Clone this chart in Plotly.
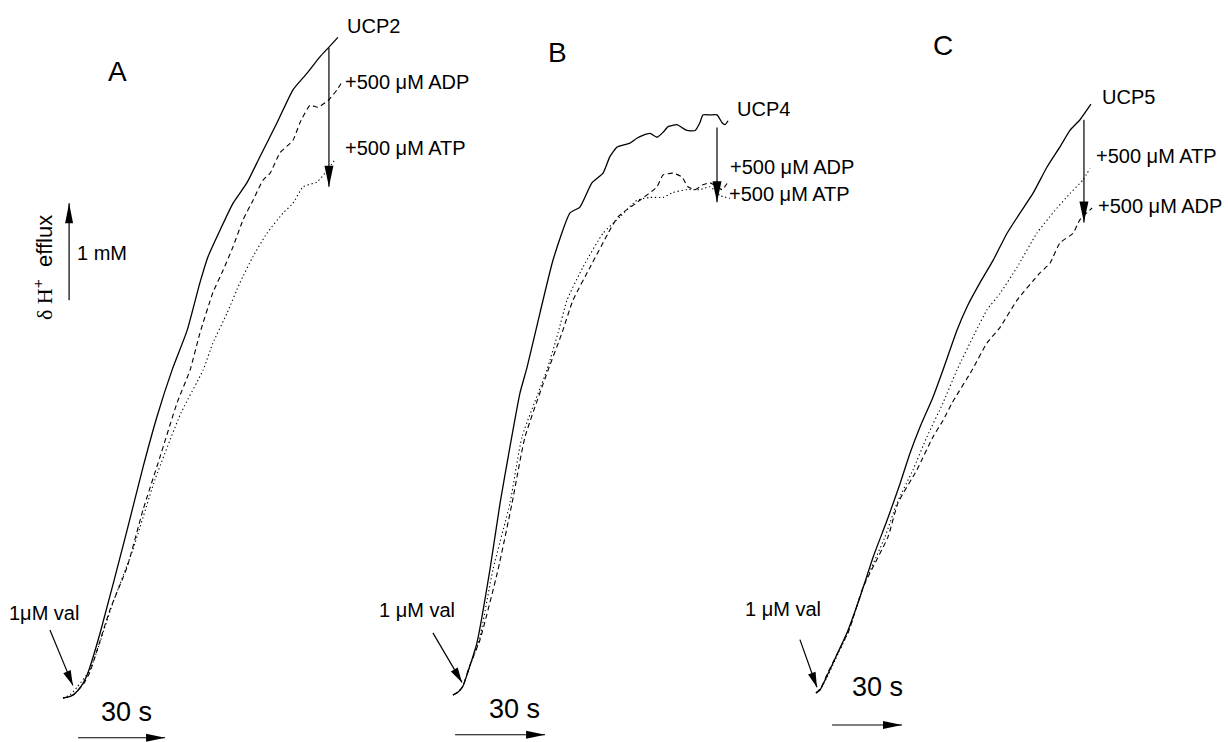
import math
import plotly.graph_objects as go

FIG_W, FIG_H = 1228, 742

# ---------------- data: time after valinomycin (s), delta H+ efflux (mM) ----------------
# Panel A - UCP2
ucp2_t = [0, 1.7, 3.4, 5.2, 6.9, 8.6, 12.8, 22.1, 27.6, 32.4, 37.6, 42.8, 47.2, 50.0, 54.1,
          58.6, 63.4, 67.9, 73.8, 79.3, 84.1, 88.6, 91.4, 94.8]
ucp2_mM = [0, 0.01, 0.03, 0.08, 0.15, 0.26, 0.67, 1.73, 2.38, 2.90, 3.38, 3.79, 4.28, 4.55, 4.82,
           5.10, 5.31, 5.58, 5.93, 6.27, 6.44, 6.61, 6.70, 6.81]
ucp2_adp_t = [0, 1.7, 3.4, 5.2, 7.2, 9.3, 16.2, 22.1, 27.6, 33.4, 39.3, 43.8, 47.2, 51.7, 55.2,
              58.6, 62.1, 65.5, 69.0, 71.4, 74.8, 79.3, 81.7, 85.2, 87.9, 91.4, 94.5, 96.2]
ucp2_adp_mM = [0, 0.01, 0.03, 0.08, 0.15, 0.27, 0.91, 1.35, 1.94, 2.48, 3.04, 3.38, 3.76, 4.18, 4.41,
               4.65, 4.93, 5.13, 5.34, 5.41, 5.62, 5.75, 5.93, 6.11, 6.09, 6.16, 6.27, 6.35]
ucp2_atp_t = [0, 2.4, 4.8, 9.3, 17.2, 24.1, 31.7, 40.7, 48.3, 51.7, 56.6, 61.0, 65.5, 70.3, 75.9,
              79.3, 82.8, 87.6, 90.3, 93.8]
ucp2_atp_mM = [0, 0.03, 0.11, 0.29, 0.98, 1.53, 2.25, 2.94, 3.38, 3.66, 3.97, 4.28, 4.55, 4.79, 5.00,
               5.10, 5.27, 5.32, 5.41, 5.55]

# Panel B - UCP4
ucp4_t = [0, 1.7, 3.3, 5.0, 8.0, 12.3, 15.7, 19.0, 22.3, 24.7, 29.0, 33.3, 39.0, 42.3, 46.3, 50.0,
          52.3, 54.7, 56.7, 59.0, 61.3, 63.3, 65.7, 68.0, 70.0, 71.7, 74.7, 76.3, 78.0, 80.7, 82.3,
          83.3, 85.7, 88.0, 89.7, 90.7, 91.7]
ucp4_mM = [0, 0.03, 0.09, 0.24, 0.54, 1.29, 1.98, 2.56, 3.11, 3.38, 3.94, 4.48, 4.97, 5.03, 5.28, 5.38,
           5.55, 5.65, 5.67, 5.69, 5.74, 5.77, 5.79, 5.75, 5.80, 5.86, 5.88, 5.85, 5.82, 5.82, 5.90,
           5.98, 5.98, 5.98, 5.90, 5.88, 5.92]
ucp4_adp_t = [0, 1.7, 3.3, 5.3, 9.0, 15.0, 19.7, 24.0, 31.7, 36.3, 40.0, 45.7, 51.7, 55.0, 62.3,
              68.0, 70.0, 73.3, 76.3, 78.3, 80.7, 83.3, 85.7, 88.0, 89.7, 91.7]
ucp4_adp_mM = [0, 0.03, 0.09, 0.28, 0.57, 1.29, 1.98, 2.66, 3.35, 3.73, 4.07, 4.41, 4.76, 4.93, 5.10,
               5.24, 5.36, 5.38, 5.34, 5.24, 5.21, 5.26, 5.28, 5.24, 5.21, 5.29]
ucp4_atp_t = [0, 1.7, 3.3, 5.3, 8.7, 13.3, 19.0, 23.0, 31.3, 35.0, 38.0, 43.3, 50.0, 55.7, 61.3,
              65.7, 70.0, 73.3, 78.0, 82.3, 85.7, 89.0, 92.3]
ucp4_atp_mM = [0, 0.03, 0.09, 0.27, 0.56, 1.29, 1.98, 2.66, 3.35, 3.73, 4.07, 4.41, 4.76, 4.93, 5.10,
               5.13, 5.13, 5.18, 5.21, 5.21, 5.24, 5.15, 5.12]

# Panel C - UCP5
ucp5_t = [0, 1.7, 7.3, 13.3, 18.9, 24.5, 30.5, 36.1, 40.3, 44.6, 50.2, 54.5, 60.5, 64.8, 70.4,
          76.0, 82.0, 87.6, 93.1, 99.1, 104.7, 109.0, 113.3, 118.0]
ucp5_mM = [0, 0.03, 0.31, 0.62, 0.99, 1.40, 1.78, 2.16, 2.47, 2.74, 3.05, 3.33, 3.74, 3.98, 4.23,
           4.46, 4.74, 4.95, 5.15, 5.42, 5.63, 5.80, 5.91, 6.07]
ucp5_atp_t = [0, 2.1, 4.7, 8.2, 14.2, 20.2, 29.6, 34.8, 41.6, 47.6, 54.5, 60.5, 68.2, 73.4, 79.0,
              86.3, 94.8, 101.7, 109.0, 114.6, 117.6]
ucp5_atp_mM = [0, 0.05, 0.16, 0.34, 0.65, 1.09, 1.61, 1.96, 2.30, 2.64, 2.99, 3.33, 3.71, 3.95, 4.12,
               4.39, 4.74, 4.95, 5.15, 5.29, 5.41]
ucp5_adp_t = [0, 2.1, 4.7, 8.2, 14.2, 20.2, 30.9, 35.2, 43.3, 50.2, 54.5, 58.4, 67.0, 73.4, 79.0,
              86.3, 96.1, 100.4, 104.7, 110.3, 113.3, 118.5]
ucp5_adp_mM = [0, 0.05, 0.19, 0.36, 0.65, 1.09, 1.61, 1.96, 2.30, 2.64, 2.81, 2.99, 3.33, 3.61, 3.77,
               4.05, 4.33, 4.43, 4.64, 4.74, 4.88, 5.00]

# scale bars
bar_time_s = 30
bar_conc_mM = 1

# ---------------- layout helpers ----------------
FONT = "Liberation Sans, Arial, sans-serif"
INK = "black"


def px(x, y):
    return x / FIG_W, 1 - y / FIG_H


panels = [
    dict(key="", ox=63, oy=698, sx=2.9, sy=97,
         solid=(ucp2_t, ucp2_mM), dash=(ucp2_adp_t, ucp2_adp_mM), dot=(ucp2_atp_t, ucp2_atp_mM),
         drop_t=91.7, drop=(6.70, 5.27),
         val_tail=(-4.5, 0.70), val_tip=(3.4, 0.13),
         bar_t0=5.2, bar_y=-0.41),
    dict(key="2", ox=453, oy=695, sx=3.0, sy=97,
         solid=(ucp4_t, ucp4_mM), dash=(ucp4_adp_t, ucp4_adp_mM), dot=(ucp4_atp_t, ucp4_atp_mM),
         drop_t=88.0, drop=(5.85, 5.08),
         val_tail=(-6.7, 0.64), val_tip=(3.0, 0.13),
         bar_t0=0.7, bar_y=-0.41),
    dict(key="3", ox=816, oy=693, sx=2.33, sy=97,
         solid=(ucp5_t, ucp5_mM), dash=(ucp5_adp_t, ucp5_adp_mM), dot=(ucp5_atp_t, ucp5_atp_mM),
         drop_t=115.0, drop=(5.91, 4.85),
         val_tail=(-6.9, 0.55), val_tip=(0.4, 0.06),
         bar_t0=6.9, bar_y=-0.33),
]

fig = go.Figure()
layout = dict(
    width=FIG_W, height=FIG_H, margin=dict(l=0, r=0, t=0, b=0),
    paper_bgcolor="white", plot_bgcolor="rgba(0,0,0,0)", showlegend=False,
    font=dict(family=FONT, color=INK, size=20),
)
shapes = []


def head_path(angle_deg, length, width):
    """Filled triangle, tip at the anchor, pointing angle_deg clockwise from up (pixel units, y up)."""
    th = math.radians(angle_deg)
    dx, dy = math.sin(th), math.cos(th)      # direction, y-up pixel frame
    nx, ny = math.cos(th), -math.sin(th)     # normal
    bx, by = -length * dx, -length * dy
    p1 = (bx + nx * width / 2, by + ny * width / 2)
    p2 = (bx - nx * width / 2, by - ny * width / 2)
    return "M0,0 L%.2f,%.2f L%.2f,%.2f Z" % (p1[0], p1[1], p2[0], p2[1])


def arrow(xa, ya, tail, tip, angle_deg, length, width):
    shapes.append(dict(type="line", xref=xa, yref=ya, x0=tail[0], y0=tail[1], x1=tip[0], y1=tip[1],
                       line=dict(color=INK, width=1.2), layer="above"))
    shapes.append(dict(type="path", xref=xa, yref=ya, xsizemode="pixel", ysizemode="pixel",
                       xanchor=tip[0], yanchor=tip[1], path=head_path(angle_deg, length, width),
                       fillcolor=INK, line=dict(width=0), layer="above"))


for p in panels:
    k = p["key"]
    xa, ya = "x" + k, "y" + k
    xr = [(0 - p["ox"]) / p["sx"], (FIG_W - p["ox"]) / p["sx"]]
    yr = [(p["oy"] - FIG_H) / p["sy"], p["oy"] / p["sy"]]
    xdict = dict(domain=[0, 1], range=xr, visible=False, fixedrange=True, anchor=ya)
    ydict = dict(domain=[0, 1], range=yr, visible=False, fixedrange=True, anchor=xa)
    if k:
        xdict["overlaying"] = "x"
        ydict["overlaying"] = "y"
    layout["xaxis" + k] = xdict
    layout["yaxis" + k] = ydict

    fig.add_trace(go.Scatter(x=p["dot"][0], y=p["dot"][1], mode="lines", xaxis=xa, yaxis=ya,
                             line=dict(color=INK, width=1.1, dash="1.3px,2.7px",
                                       shape="spline", smoothing=0.5)))
    fig.add_trace(go.Scatter(x=p["dash"][0], y=p["dash"][1], mode="lines", xaxis=xa, yaxis=ya,
                             line=dict(color=INK, width=1.1, dash="5px,3.5px",
                                       shape="spline", smoothing=0.5)))
    fig.add_trace(go.Scatter(x=p["solid"][0], y=p["solid"][1], mode="lines", xaxis=xa, yaxis=ya,
                             line=dict(color=INK, width=1.3, shape="spline", smoothing=0.5)))

    # addition arrow (drop), valinomycin arrow, 30 s time bar
    arrow(xa, ya, (p["drop_t"], p["drop"][0]), (p["drop_t"], p["drop"][1]), 180, 21, 9)
    val_angle = {"": 157, "2": 149, "3": 160}[k]
    arrow(xa, ya, p["val_tail"], p["val_tip"], val_angle, 15, 8)
    arrow(xa, ya, (p["bar_t0"], p["bar_y"]), (p["bar_t0"] + bar_time_s, p["bar_y"]), 90, 19, 8)
    if k == "":
        arrow(xa, ya, (2.1, 4.10), (2.1, 4.10 + bar_conc_mM), 0, 20, 8)

layout["shapes"] = shapes
fig.update_layout(**layout)


def label(text, x, y, size=20, xanchor="left", angle=0):
    fx, fy = px(x, y)
    fig.add_annotation(x=fx, y=fy, xref="paper", yref="paper", text=text, showarrow=False,
                       xanchor=xanchor, yanchor="middle", textangle=angle,
                       font=dict(family=FONT, size=size, color=INK))


MU = "μ"
# Panel A
label("A", 117, 71, size=28, xanchor="center")
label("UCP2", 345, 26)
label("+500 " + MU + "M ADP", 343, 82)
label("+500 " + MU + "M ATP", 343, 148)
label("1" + MU + "M val", 44, 613, xanchor="center")
label("30 s", 126, 712, size=27, xanchor="center")
label("1 mM", 75, 253)
label('<span style="font-family:Liberation Serif;font-size:22px">δ H</span>'
      '<sup>+</sup>  efflux', 43, 268, size=22, xanchor="center", angle=-90)
# Panel B
label("B", 557, 52, size=28, xanchor="center")
label("UCP4", 735, 109)
label("+500 " + MU + "M ADP", 728, 167)
label("+500 " + MU + "M ATP", 727, 194)
label("1 " + MU + "M val", 417, 610, xanchor="center")
label("30 s", 514, 709, size=27, xanchor="center")
# Panel C
label("C", 943, 46, size=28, xanchor="center")
label("UCP5", 1100, 97)
label("+500 " + MU + "M ATP", 1094, 156)
label("+500 " + MU + "M ADP", 1096, 206)
label("1 " + MU + "M val", 783, 609, xanchor="center")
label("30 s", 877, 687, size=27, xanchor="center")

fig.write_html("out.html", config=dict(displayModeBar=False, staticPlot=True))
